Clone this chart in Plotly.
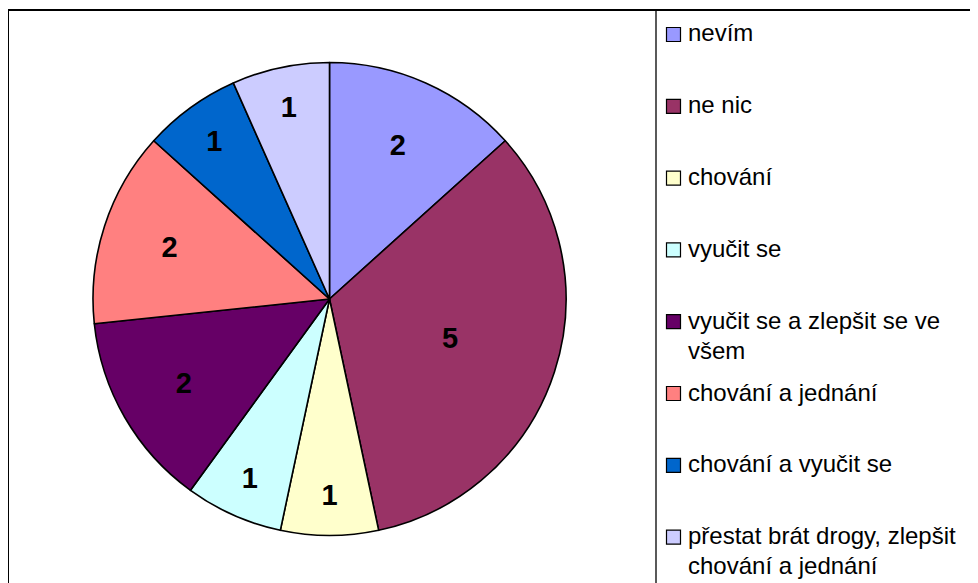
import plotly.graph_objects as go

categories = [
    "nevím",
    "ne nic",
    "chování",
    "vyučit se",
    "vyučit se a zlepšit se ve|všem",
    "chování a jednání",
    "chování a vyučit se",
    "přestat brát drogy, zlepšit|chování a jednání",
]
values = [2, 5, 1, 1, 2, 2, 1, 1]
colors = ["#9999FF", "#993366", "#FFFFCC", "#CCFFFF", "#660066", "#FF8080", "#0066CC", "#CCCCFF"]

W, H = 978, 583
OFF = 8  # default page body margin

def px(x):
    return (x - OFF) / W

def py(y):
    return 1 - (y - OFF) / H

cx, cy, R = 329.5, 299.0, 236.5

fig = go.Figure()
fig.add_trace(go.Pie(
    labels=[c.replace("|", " ") for c in categories],
    values=values,
    sort=False,
    direction="clockwise",
    rotation=0,
    marker=dict(colors=colors, line=dict(color="black", width=1.6)),
    textinfo="value",
    texttemplate="<b>%{value}</b>",
    textposition="inside",
    insidetextorientation="horizontal",
    textfont=dict(family="Liberation Sans, Arial, sans-serif", size=29, color="black"),
    domain=dict(x=[px(cx - R), px(cx + R)], y=[py(cy + R), py(cy - R)]),
    showlegend=False,
    hoverinfo="label+value+percent",
))

shapes = [
    dict(type="line", xref="paper", yref="paper", x0=px(8), x1=1.01, y0=py(10), y1=py(10),
         line=dict(color="black", width=2)),
    dict(type="line", xref="paper", yref="paper", x0=px(8), x1=px(8), y0=py(10), y1=-0.01,
         line=dict(color="black", width=2)),
    dict(type="line", xref="paper", yref="paper", x0=px(656), x1=px(656), y0=py(10), y1=-0.01,
         line=dict(color="black", width=1.3)),
]

annotations = []
step = 71.8
first = 34.5
sw = 14
for i, (cat, col) in enumerate(zip(categories, colors)):
    yc = first + i * step
    shapes.append(dict(type="rect", xref="paper", yref="paper",
                       x0=px(666.5), x1=px(666.5 + sw), y0=py(yc + sw / 2), y1=py(yc - sw / 2),
                       fillcolor=col, line=dict(color="black", width=1.2)))
    for k, line in enumerate(cat.split("|")):
        annotations.append(dict(
            xref="paper", yref="paper", x=px(686), y=py(yc + k * 30 - 1.5),
            xanchor="left", yanchor="middle", showarrow=False, text=line,
            font=dict(family="Liberation Sans, Arial, sans-serif", size=24, color="black"),
        ))

fig.update_layout(
    width=W, height=H,
    margin=dict(l=0, r=0, t=0, b=0),
    paper_bgcolor="white",
    plot_bgcolor="white",
    shapes=shapes,
    annotations=annotations,
)

fig.write_html("out.html")
